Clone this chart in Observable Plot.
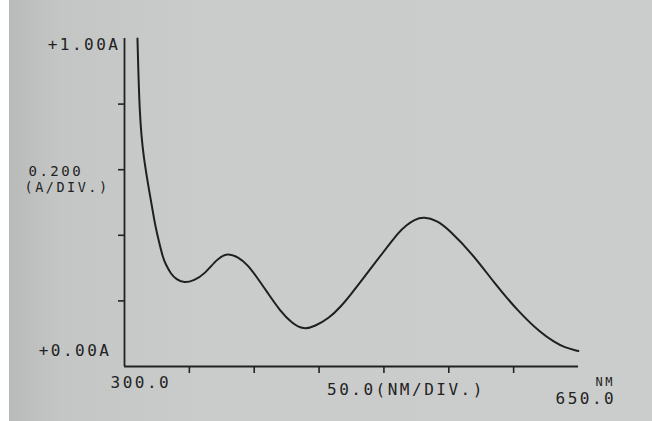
<!DOCTYPE html>
<html>
<head>
<meta charset="utf-8">
<script src="https://cdn.jsdelivr.net/npm/d3@7"></script>
<script src="https://cdn.jsdelivr.net/npm/@observablehq/plot@0.6"></script>
<style>
  html, body { margin: 0; padding: 0; background: #ffffff; }
  #chart svg { display: block; }
</style>
</head>
<body>
<div id="chart"></div>
<script>
// Absorbance spectrum
const wavelength = [310, 311.6, 314.6, 319.1, 323.5, 325.3, 329.5, 331.9, 335.9, 339.9, 346.1, 353.8, 361.3, 371.8, 379.3, 387.2, 394.9, 403, 410.8, 419.7, 429, 438.3, 446.8, 457.4, 467.1, 474.7, 481.9, 499.2, 511.9, 517.1, 523.4, 530.8, 541, 550.2, 568.3, 584.2, 603.2, 621.2, 631.3, 639, 649.9];
const absorbance = [1.0, 0.761, 0.638, 0.534, 0.433, 0.402, 0.332, 0.311, 0.281, 0.266, 0.254, 0.263, 0.280, 0.330, 0.346, 0.335, 0.311, 0.267, 0.222, 0.171, 0.132, 0.112, 0.123, 0.146, 0.184, 0.221, 0.258, 0.347, 0.412, 0.430, 0.448, 0.457, 0.445, 0.417, 0.343, 0.259, 0.169, 0.101, 0.075, 0.058, 0.047];

const xDomain = [300, 650];
const yDomain = [0, 1];
const xTicks = [350, 400, 450, 500, 550, 600];
const yTicks = [0.2, 0.4, 0.6, 0.8];

const yEndLabels = ["+0.00A", "+1.00A"];
const yScaleLabels = ["0.200", "(A/DIV.)"];
const xStartLabel = "300.0";
const xEndLabel = "650.0";
const xUnitLabel = "NM";
const xScaleLabel = "50.0(NM/DIV.)";

const data = wavelength.map((w, i) => ({nm: w, a: absorbance[i]}));
const ink = "#222222";
const font = "DejaVu Sans Mono";

const chart = Plot.plot({
  width: 652,
  height: 421,
  marginLeft: 124,
  marginRight: 74,
  marginTop: 38,
  marginBottom: 55,
  style: {
    background: "linear-gradient(to right, #ffffff 0px, #ffffff 9px, #b9bbba 9px, #c4c6c5 60px, #cacccb 200px, #cbcdcc 100%)",
    fontFamily: font,
    color: ink,
    letterSpacing: "2.5px"
  },
  x: {domain: xDomain},
  y: {domain: yDomain},
  marks: [
    Plot.ruleY([yDomain[0]], {x1: xDomain[0], x2: xDomain[1], stroke: ink, strokeWidth: 1.8}),
    Plot.ruleX([xDomain[0]], {y1: yDomain[0], y2: yDomain[1], stroke: ink, strokeWidth: 1.8}),
    Plot.axisX({ticks: xTicks, tickSize: 7, tickFormat: () => "", label: null, stroke: ink, strokeWidth: 1.6}),
    Plot.axisY({ticks: yTicks, tickSize: 6, tickFormat: () => "", label: null, stroke: ink, strokeWidth: 1.6}),
    Plot.line(data, {x: "nm", y: "a", curve: "basis", stroke: "#1f1f1f", strokeWidth: 2}),
    Plot.text([yEndLabels[1]], {x: xDomain[0], y: yDomain[1], text: d => d, textAnchor: "end", dx: -4, dy: 6, fontSize: 16, fill: ink, fontFamily: font}),
    Plot.text([yEndLabels[0]], {x: xDomain[0], y: yDomain[0], text: d => d, textAnchor: "end", dx: -13, dy: -16, fontSize: 16, fill: ink, fontFamily: font}),
    Plot.text([yScaleLabels[0]], {x: xDomain[0], y: 0.6, text: d => d, textAnchor: "start", dx: -96, dy: 2, fontSize: 14, fill: ink, fontFamily: font}),
    Plot.text([yScaleLabels[1]], {x: xDomain[0], y: 0.6, text: d => d, textAnchor: "start", dx: -100, dy: 18, fontSize: 13.5, fill: ink, fontFamily: font}),
    Plot.text([xStartLabel], {x: xDomain[0], y: yDomain[0], text: d => d, textAnchor: "start", dx: -14, dy: 16, fontSize: 16, fill: ink, fontFamily: font}),
    Plot.text([xScaleLabel], {x: 450, y: yDomain[0], text: d => d, textAnchor: "start", dx: 8, dy: 23, fontSize: 16, fill: ink, fontFamily: font}),
    Plot.text([xEndLabel], {x: xDomain[1], y: yDomain[0], text: d => d, textAnchor: "start", dx: -23, dy: 32, fontSize: 16, fill: ink, fontFamily: font}),
    Plot.text([xUnitLabel], {x: xDomain[1], y: yDomain[0], text: d => d, textAnchor: "start", dx: 17, dy: 16, fontSize: 12, fill: ink, fontFamily: font})
  ]
});
document.getElementById("chart").appendChild(chart);
</script>
</body>
</html>
